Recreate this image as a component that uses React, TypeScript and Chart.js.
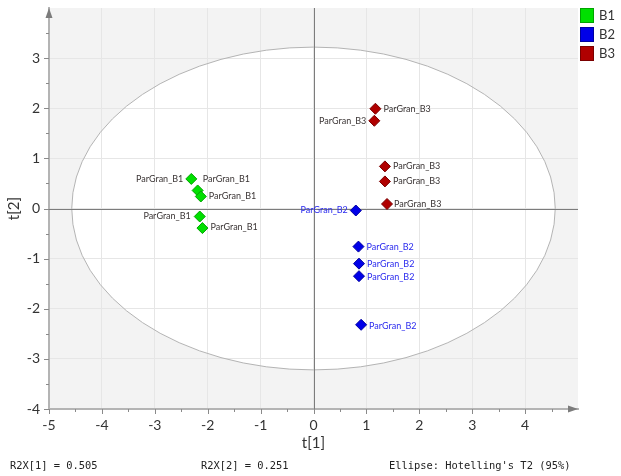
import React, { useEffect, useRef } from "react";
import { Chart, registerables } from "chart.js";

Chart.register(...registerables);

// Score values t[1] / t[2] per group
const groups = ["B1", "B2", "B3"];
const b1X = [-2.31, -2.19, -2.13, -2.15, -2.1];
const b1Y = [0.59, 0.36, 0.24, -0.16, -0.39];
const b2X = [0.8, 0.85, 0.86, 0.86, 0.9];
const b2Y = [-0.04, -0.76, -1.1, -1.35, -2.32];
const b3X = [1.17, 1.15, 1.35, 1.35, 1.39];
const b3Y = [1.99, 1.75, 0.84, 0.54, 0.09];
const b1Names = ["ParGran_B1", "ParGran_B1", "ParGran_B1", "ParGran_B1", "ParGran_B1"];
const b2Names = ["ParGran_B2", "ParGran_B2", "ParGran_B2", "ParGran_B2", "ParGran_B2"];
const b3Names = ["ParGran_B3", "ParGran_B3", "ParGran_B3", "ParGran_B3", "ParGran_B3"];

const xTicks = [-5, -4, -3, -2, -1, 0, 1, 2, 3, 4];
const yTicks = [-4, -3, -2, -1, 0, 1, 2, 3];

// Hotelling's T2 (95%) ellipse semi-axes
const ellipseA = 4.57;
const ellipseB = 3.22;

const footer = ["R2X[1] = 0.505", "R2X[2] = 0.251", "Ellipse: Hotelling's T2 (95%)"];

// Label placement per point: side and pixel nudge
const labelPlacement = [
  [["l", -8, 0], ["r", 5, -11], ["r", 8, 0], ["l", -9, 0], ["r", 8, -1]],
  [["l", -8, 0], ["r", 8, 0], ["r", 8, 0], ["r", 8, 1], ["r", 8, 1]],
  [["r", 8, 0], ["l", -8, 0], ["r", 8, 0], ["r", 8, 0], ["r", 7, 0]],
] as const;

const fills = ["#00e000", "#0000e8", "#b00000"];
const borders = ["#00a400", "#0000a0", "#7a0000"];
const labelColors = ["#3a3434", "#2a2aee", "#3a3434"];

const toPoints = (xs: number[], ys: number[]) => xs.map((x, i) => ({ x, y: ys[i] }));

const decor = {
  id: "decor",
  beforeDraw(chart: any) {
    const { ctx, chartArea: a, scales } = chart;
    const sx = scales.x, sy = scales.y;
    ctx.save();
    ctx.fillStyle = "#f3f3f3";
    ctx.fillRect(a.left, a.top, a.right - a.left, a.bottom - a.top);
    const cx = sx.getPixelForValue(0), cy = sy.getPixelForValue(0);
    const rx = sx.getPixelForValue(ellipseA) - cx;
    const ry = cy - sy.getPixelForValue(ellipseB);
    ctx.beginPath();
    ctx.ellipse(cx, cy, rx, ry, 0, 0, Math.PI * 2);
    ctx.fillStyle = "#ffffff";
    ctx.fill();
    ctx.restore();
  },
  beforeDatasetsDraw(chart: any) {
    const { ctx, chartArea: a, scales } = chart;
    const sx = scales.x, sy = scales.y;
    const cx = sx.getPixelForValue(0), cy = sy.getPixelForValue(0);
    const rx = sx.getPixelForValue(ellipseA) - cx;
    const ry = cy - sy.getPixelForValue(ellipseB);
    ctx.save();
    ctx.beginPath();
    ctx.ellipse(cx, cy, rx, ry, 0, 0, Math.PI * 2);
    ctx.strokeStyle = "#b4b4b4";
    ctx.lineWidth = 1;
    ctx.stroke();
    ctx.strokeStyle = "#7c7c7c";
    ctx.beginPath();
    ctx.moveTo(Math.round(cx) + 0.5, a.top);
    ctx.lineTo(Math.round(cx) + 0.5, a.bottom);
    ctx.moveTo(a.left, Math.round(cy) + 0.5);
    ctx.lineTo(a.right, Math.round(cy) + 0.5);
    ctx.stroke();
    ctx.restore();
  },
  afterDatasetsDraw(chart: any) {
    const { ctx } = chart;
    const names = [b1Names, b2Names, b3Names];
    ctx.save();
    ctx.font = "9px Lato";
    ctx.textBaseline = "middle";
    names.forEach((list, d) => {
      const meta = chart.getDatasetMeta(d);
      list.forEach((name, i) => {
        const el = meta.data[i];
        const [side, dx, dy] = labelPlacement[d][i];
        ctx.fillStyle = labelColors[d];
        ctx.textAlign = side === "l" ? "right" : "left";
        ctx.fillText(name, el.x + dx, el.y + dy);
      });
    });
    ctx.restore();
  },
  afterDraw(chart: any) {
    const { ctx, chartArea: a, scales } = chart;
    const sx = scales.x, sy = scales.y;
    ctx.save();
    // tick marks, major and minor
    ctx.strokeStyle = "#8a8a8a";
    ctx.lineWidth = 1;
    ctx.beginPath();
    for (let v = -5; v <= 4.5; v += 0.5) {
      const px = Math.round(sx.getPixelForValue(v)) + 0.5;
      const len = Number.isInteger(v) ? 5 : 3;
      ctx.moveTo(px, a.bottom);
      ctx.lineTo(px, a.bottom + len);
    }
    for (let v = -4; v <= 3.5; v += 0.5) {
      const py = Math.round(sy.getPixelForValue(v)) + 0.5;
      const len = Number.isInteger(v) ? 5 : 3;
      ctx.moveTo(a.left, py);
      ctx.lineTo(a.left - len, py);
    }
    ctx.stroke();
    // axis arrows
    ctx.fillStyle = "#7c7c7c";
    ctx.beginPath();
    ctx.moveTo(a.left, a.top);
    ctx.lineTo(a.left - 3.5, a.top + 10);
    ctx.lineTo(a.left + 3.5, a.top + 10);
    ctx.closePath();
    ctx.fill();
    ctx.beginPath();
    ctx.moveTo(a.right, a.bottom);
    ctx.lineTo(a.right - 10, a.bottom - 3.5);
    ctx.lineTo(a.right - 10, a.bottom + 3.5);
    ctx.closePath();
    ctx.fill();
    // axis titles
    ctx.fillStyle = "#333333";
    ctx.font = "15px Lato";
    ctx.textAlign = "center";
    ctx.textBaseline = "middle";
    ctx.fillText("t[1]", sx.getPixelForValue(0), 443);
    ctx.save();
    ctx.translate(14, sy.getPixelForValue(0));
    ctx.rotate(-Math.PI / 2);
    ctx.fillText("t[2]", 0, 0);
    ctx.restore();
    // legend
    ctx.textAlign = "left";
    ctx.font = "13px Lato";
    groups.forEach((g, i) => {
      const top = 8 + i * 19;
      ctx.fillStyle = fills[i];
      ctx.fillRect(580, top, 14, 15);
      ctx.strokeStyle = borders[i];
      ctx.strokeRect(580.5, top + 0.5, 13, 14);
      ctx.fillStyle = "#333333";
      ctx.fillText(g, 599, top + 8);
    });
    // footer
    ctx.font = "10.4px 'DejaVu Sans Mono'";
    ctx.fillStyle = "#222222";
    ctx.fillText(footer[0], 10, 466);
    ctx.fillText(footer[1], 201, 466);
    ctx.fillText(footer[2], 389, 466);
    ctx.restore();
  },
};

export default function App() {
  const ref = useRef<HTMLCanvasElement>(null);
  useEffect(() => {
    document.body.style.margin = "0";
    const datasets = [
      toPoints(b1X, b1Y),
      toPoints(b2X, b2Y),
      toPoints(b3X, b3Y),
    ].map((data, i) => ({
      label: groups[i],
      data,
      pointStyle: "rectRot",
      pointRadius: 5.5,
      pointBackgroundColor: fills[i],
      pointBorderColor: borders[i],
      pointBorderWidth: 1,
      showLine: false,
    }));
    const chart = new Chart(ref.current!, {
      type: "scatter",
      data: { datasets },
      options: {
        animation: false,
        responsive: false,
        layout: { padding: { left: 0, right: 43, top: 8, bottom: 0 } },
        plugins: { legend: { display: false }, tooltip: { enabled: false } },
        scales: {
          x: {
            type: "linear",
            min: -5,
            max: 5,
            afterFit: (s: any) => {
              s.height = 67;
              s.paddingLeft = 0;
              s.paddingRight = 0;
            },
            afterBuildTicks: (s: any) => { s.ticks = xTicks.map((value) => ({ value })); },
            grid: { color: "#e6e6e6", drawTicks: false },
            border: { color: "#b4b4b4", width: 2 },
            ticks: { font: { family: "Lato", size: 14 }, color: "#333333", padding: 8 },
          },
          y: {
            type: "linear",
            min: -4,
            max: 4,
            afterFit: (s: any) => {
              s.width = 49;
              s.paddingTop = 0;
              s.paddingBottom = 0;
            },
            afterBuildTicks: (s: any) => { s.ticks = yTicks.map((value) => ({ value })); },
            grid: { color: "#e6e6e6", drawTicks: false },
            border: { color: "#b4b4b4", width: 2 },
            ticks: { font: { family: "Lato", size: 14 }, color: "#333333", padding: 9 },
          },
        },
      },
      plugins: [decor],
    } as any);
    return () => chart.destroy();
  }, []);
  return (
    <div style={{ width: 621, height: 476 }}>
      <canvas ref={ref} width={621} height={476} />
    </div>
  );
}
